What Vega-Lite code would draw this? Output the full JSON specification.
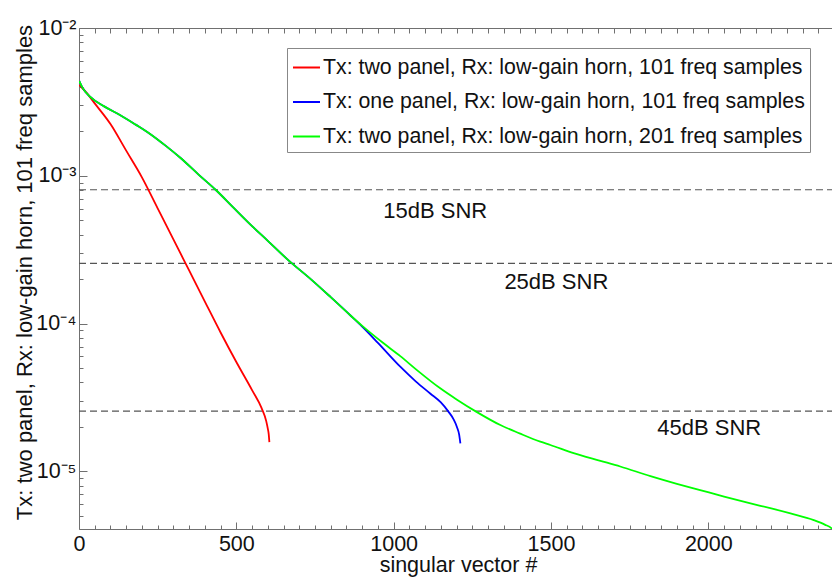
{
  "$schema": "https://vega.github.io/schema/vega-lite/v6.json",
  "width": 753,
  "height": 501,
  "autosize": {"type": "none"},
  "padding": {"left": 79, "top": 28, "right": 0, "bottom": 51},
  "background": "white",
  "config": {
    "view": {"stroke": null},
    "font": "Liberation Sans",
    "axis": {
      "labelFont": "Liberation Sans",
      "titleFont": "Liberation Sans",
      "labelColor": "#111111",
      "titleColor": "#111111",
      "titleFontWeight": "normal",
      "domainColor": "#707070",
      "tickColor": "#707070",
      "tickWidth": 1,
      "grid": false,
      "zindex": 1
    },
    "legend": {
      "orient": "none",
      "legendX": 208,
      "legendY": 20,
      "symbolType": "stroke",
      "symbolSize": 729,
      "symbolStrokeWidth": 2,
      "labelFont": "Liberation Sans",
      "labelFontSize": 21.3,
      "labelColor": "#111111",
      "labelLimit": 0,
      "labelOffset": 2,
      "rowPadding": 9.5,
      "padding": 5,
      "strokeColor": "#888888",
      "fillColor": "white"
    }
  },
  "datasets": {
    "curves": [
      {"series": "Tx: two panel, Rx: low-gain horn, 101 freq samples", "x": 1, "y": 0.00412},
      {"series": "Tx: two panel, Rx: low-gain horn, 101 freq samples", "x": 25, "y": 0.00363},
      {"series": "Tx: two panel, Rx: low-gain horn, 101 freq samples", "x": 50, "y": 0.00309},
      {"series": "Tx: two panel, Rx: low-gain horn, 101 freq samples", "x": 100, "y": 0.00224},
      {"series": "Tx: two panel, Rx: low-gain horn, 101 freq samples", "x": 150, "y": 0.00148},
      {"series": "Tx: two panel, Rx: low-gain horn, 101 freq samples", "x": 200, "y": 0.000977},
      {"series": "Tx: two panel, Rx: low-gain horn, 101 freq samples", "x": 250, "y": 0.000603},
      {"series": "Tx: two panel, Rx: low-gain horn, 101 freq samples", "x": 300, "y": 0.000372},
      {"series": "Tx: two panel, Rx: low-gain horn, 101 freq samples", "x": 350, "y": 0.000229},
      {"series": "Tx: two panel, Rx: low-gain horn, 101 freq samples", "x": 400, "y": 0.000141},
      {"series": "Tx: two panel, Rx: low-gain horn, 101 freq samples", "x": 450, "y": 0.0000871},
      {"series": "Tx: two panel, Rx: low-gain horn, 101 freq samples", "x": 500, "y": 0.000055},
      {"series": "Tx: two panel, Rx: low-gain horn, 101 freq samples", "x": 550, "y": 0.0000355},
      {"series": "Tx: two panel, Rx: low-gain horn, 101 freq samples", "x": 580, "y": 0.0000269},
      {"series": "Tx: two panel, Rx: low-gain horn, 101 freq samples", "x": 595, "y": 0.0000219},
      {"series": "Tx: two panel, Rx: low-gain horn, 101 freq samples", "x": 600, "y": 0.0000195},
      {"series": "Tx: two panel, Rx: low-gain horn, 101 freq samples", "x": 603, "y": 0.0000178},
      {"series": "Tx: two panel, Rx: low-gain horn, 101 freq samples", "x": 605, "y": 0.0000158},

      {"series": "Tx: one panel, Rx: low-gain horn, 101 freq samples", "x": 1, "y": 0.00437},
      {"series": "Tx: one panel, Rx: low-gain horn, 101 freq samples", "x": 10, "y": 0.00398},
      {"series": "Tx: one panel, Rx: low-gain horn, 101 freq samples", "x": 35, "y": 0.00343},
      {"series": "Tx: one panel, Rx: low-gain horn, 101 freq samples", "x": 80, "y": 0.00295},
      {"series": "Tx: one panel, Rx: low-gain horn, 101 freq samples", "x": 130, "y": 0.00258},
      {"series": "Tx: one panel, Rx: low-gain horn, 101 freq samples", "x": 180, "y": 0.00222},
      {"series": "Tx: one panel, Rx: low-gain horn, 101 freq samples", "x": 226, "y": 0.00192},
      {"series": "Tx: one panel, Rx: low-gain horn, 101 freq samples", "x": 275, "y": 0.0016},
      {"series": "Tx: one panel, Rx: low-gain horn, 101 freq samples", "x": 321, "y": 0.00133},
      {"series": "Tx: one panel, Rx: low-gain horn, 101 freq samples", "x": 380, "y": 0.00102},
      {"series": "Tx: one panel, Rx: low-gain horn, 101 freq samples", "x": 435, "y": 0.000802},
      {"series": "Tx: one panel, Rx: low-gain horn, 101 freq samples", "x": 490, "y": 0.000612},
      {"series": "Tx: one panel, Rx: low-gain horn, 101 freq samples", "x": 540, "y": 0.000479},
      {"series": "Tx: one panel, Rx: low-gain horn, 101 freq samples", "x": 600, "y": 0.000363},
      {"series": "Tx: one panel, Rx: low-gain horn, 101 freq samples", "x": 665, "y": 0.000269},
      {"series": "Tx: one panel, Rx: low-gain horn, 101 freq samples", "x": 740, "y": 0.000197},
      {"series": "Tx: one panel, Rx: low-gain horn, 101 freq samples", "x": 800, "y": 0.000151},
      {"series": "Tx: one panel, Rx: low-gain horn, 101 freq samples", "x": 862, "y": 0.000114},
      {"series": "Tx: one panel, Rx: low-gain horn, 101 freq samples", "x": 900, "y": 0.0000955},
      {"series": "Tx: one panel, Rx: low-gain horn, 101 freq samples", "x": 950, "y": 0.0000741},
      {"series": "Tx: one panel, Rx: low-gain horn, 101 freq samples", "x": 1021, "y": 0.0000511},
      {"series": "Tx: one panel, Rx: low-gain horn, 101 freq samples", "x": 1070, "y": 0.0000407},
      {"series": "Tx: one panel, Rx: low-gain horn, 101 freq samples", "x": 1116, "y": 0.0000337},
      {"series": "Tx: one panel, Rx: low-gain horn, 101 freq samples", "x": 1150, "y": 0.0000293},
      {"series": "Tx: one panel, Rx: low-gain horn, 101 freq samples", "x": 1174, "y": 0.0000254},
      {"series": "Tx: one panel, Rx: low-gain horn, 101 freq samples", "x": 1190, "y": 0.0000226},
      {"series": "Tx: one panel, Rx: low-gain horn, 101 freq samples", "x": 1201, "y": 0.00002},
      {"series": "Tx: one panel, Rx: low-gain horn, 101 freq samples", "x": 1208, "y": 0.0000178},
      {"series": "Tx: one panel, Rx: low-gain horn, 101 freq samples", "x": 1212, "y": 0.0000155},

      {"series": "Tx: two panel, Rx: low-gain horn, 201 freq samples", "x": 1, "y": 0.00437},
      {"series": "Tx: two panel, Rx: low-gain horn, 201 freq samples", "x": 10, "y": 0.00398},
      {"series": "Tx: two panel, Rx: low-gain horn, 201 freq samples", "x": 35, "y": 0.00343},
      {"series": "Tx: two panel, Rx: low-gain horn, 201 freq samples", "x": 80, "y": 0.00295},
      {"series": "Tx: two panel, Rx: low-gain horn, 201 freq samples", "x": 130, "y": 0.00258},
      {"series": "Tx: two panel, Rx: low-gain horn, 201 freq samples", "x": 180, "y": 0.00222},
      {"series": "Tx: two panel, Rx: low-gain horn, 201 freq samples", "x": 226, "y": 0.00192},
      {"series": "Tx: two panel, Rx: low-gain horn, 201 freq samples", "x": 275, "y": 0.0016},
      {"series": "Tx: two panel, Rx: low-gain horn, 201 freq samples", "x": 321, "y": 0.00133},
      {"series": "Tx: two panel, Rx: low-gain horn, 201 freq samples", "x": 380, "y": 0.00102},
      {"series": "Tx: two panel, Rx: low-gain horn, 201 freq samples", "x": 435, "y": 0.000802},
      {"series": "Tx: two panel, Rx: low-gain horn, 201 freq samples", "x": 490, "y": 0.000612},
      {"series": "Tx: two panel, Rx: low-gain horn, 201 freq samples", "x": 540, "y": 0.000479},
      {"series": "Tx: two panel, Rx: low-gain horn, 201 freq samples", "x": 600, "y": 0.000363},
      {"series": "Tx: two panel, Rx: low-gain horn, 201 freq samples", "x": 665, "y": 0.000269},
      {"series": "Tx: two panel, Rx: low-gain horn, 201 freq samples", "x": 740, "y": 0.000197},
      {"series": "Tx: two panel, Rx: low-gain horn, 201 freq samples", "x": 800, "y": 0.000151},
      {"series": "Tx: two panel, Rx: low-gain horn, 201 freq samples", "x": 862, "y": 0.000114},
      {"series": "Tx: two panel, Rx: low-gain horn, 201 freq samples", "x": 900, "y": 0.0000966},
      {"series": "Tx: two panel, Rx: low-gain horn, 201 freq samples", "x": 968, "y": 0.0000736},
      {"series": "Tx: two panel, Rx: low-gain horn, 201 freq samples", "x": 1021, "y": 0.0000603},
      {"series": "Tx: two panel, Rx: low-gain horn, 201 freq samples", "x": 1074, "y": 0.0000485},
      {"series": "Tx: two panel, Rx: low-gain horn, 201 freq samples", "x": 1148, "y": 0.0000365},
      {"series": "Tx: two panel, Rx: low-gain horn, 201 freq samples", "x": 1200, "y": 0.0000307},
      {"series": "Tx: two panel, Rx: low-gain horn, 201 freq samples", "x": 1262, "y": 0.0000254},
      {"series": "Tx: two panel, Rx: low-gain horn, 201 freq samples", "x": 1339, "y": 0.0000206},
      {"series": "Tx: two panel, Rx: low-gain horn, 201 freq samples", "x": 1400, "y": 0.0000181},
      {"series": "Tx: two panel, Rx: low-gain horn, 201 freq samples", "x": 1466, "y": 0.0000159},
      {"series": "Tx: two panel, Rx: low-gain horn, 201 freq samples", "x": 1498, "y": 0.0000151},
      {"series": "Tx: two panel, Rx: low-gain horn, 201 freq samples", "x": 1572, "y": 0.0000133},
      {"series": "Tx: two panel, Rx: low-gain horn, 201 freq samples", "x": 1657, "y": 0.0000118},
      {"series": "Tx: two panel, Rx: low-gain horn, 201 freq samples", "x": 1720, "y": 0.0000108},
      {"series": "Tx: two panel, Rx: low-gain horn, 201 freq samples", "x": 1816, "y": 0.0000093},
      {"series": "Tx: two panel, Rx: low-gain horn, 201 freq samples", "x": 1900, "y": 0.00000825},
      {"series": "Tx: two panel, Rx: low-gain horn, 201 freq samples", "x": 1974, "y": 0.00000748},
      {"series": "Tx: two panel, Rx: low-gain horn, 201 freq samples", "x": 2050, "y": 0.00000676},
      {"series": "Tx: two panel, Rx: low-gain horn, 201 freq samples", "x": 2134, "y": 0.00000608},
      {"series": "Tx: two panel, Rx: low-gain horn, 201 freq samples", "x": 2200, "y": 0.00000562},
      {"series": "Tx: two panel, Rx: low-gain horn, 201 freq samples", "x": 2261, "y": 0.0000052},
      {"series": "Tx: two panel, Rx: low-gain horn, 201 freq samples", "x": 2335, "y": 0.00000469},
      {"series": "Tx: two panel, Rx: low-gain horn, 201 freq samples", "x": 2370, "y": 0.00000437},
      {"series": "Tx: two panel, Rx: low-gain horn, 201 freq samples", "x": 2393, "y": 0.0000041},
      {"series": "Tx: two panel, Rx: low-gain horn, 201 freq samples", "x": 2405, "y": 0.0000038}
    ],
    "levels": [
      {"snr": "15dB", "level": 0.000805},
      {"snr": "25dB", "level": 0.000256},
      {"snr": "45dB", "level": 0.0000256}
    ],
    "notes": [
      {"text": "15dB SNR", "x": 1132, "y": 0.000578},
      {"text": "25dB SNR", "x": 1517, "y": 0.000191},
      {"text": "45dB SNR", "x": 2003, "y": 0.0000197}
    ]
  },
  "resolve": {"axis": {"x": "independent", "y": "independent"}},
  "layer": [
    {
      "data": {"name": "levels"},
      "mark": {"type": "rule", "color": "#555555", "strokeWidth": 1.2, "strokeDash": [7, 4]},
      "encoding": {
        "x": {"datum": 0, "type": "quantitative",
              "scale": {"domain": [0, 2393], "nice": false, "zero": false},
              "axis": {
                "orient": "top",
                "offset": -501,
                "title": null,
                "labels": false,
                "domain": false,
                "ticks": true,
                "values": [0, 500, 1000, 1500, 2000],
                "tickSize": 7
              }},
        "x2": {"datum": 2393},
        "y": {"field": "level", "type": "quantitative",
              "scale": {"type": "log", "domain": [0.00000408, 0.01], "nice": false},
              "axis": {
                "orient": "right",
                "offset": -753,
                "title": null,
                "labels": false,
                "domain": false,
                "ticks": true,
                "values": [1e-5, 1e-4, 1e-3, 1e-2],
                "tickSize": 8
              }}
      }
    },
    {
      "data": {"name": "curves"},
      "transform": [{"filter": "datum.series == 'Tx: two panel, Rx: low-gain horn, 101 freq samples'"}],
      "mark": {"type": "line", "strokeWidth": 1.8, "clip": true, "interpolate": "monotone"},
      "encoding": {
        "x": {"field": "x", "type": "quantitative",
              "scale": {"domain": [0, 2393], "nice": false, "zero": false},
              "axis": {
                "orient": "bottom",
                "title": "singular vector #",
                "titleFontSize": 21.5,
                "titleX": 379,
                "titleY": 42,
                "titleBaseline": "alphabetic",
                "values": [0, 500, 1000, 1500, 2000],
                "format": "d",
                "ticks": false,
                "labelFontSize": 21.5,
                "labelPadding": 4,
                "labelFlush": false,
                "labelOverlap": false
              }},
        "y": {"field": "y", "type": "quantitative",
              "scale": {"type": "log", "domain": [0.00000408, 0.01], "nice": false},
              "axis": {
                "orient": "left",
                "title": "Tx: two panel, Rx: low-gain horn, 101 freq samples",
                "titleFontSize": 22,
                "titleX": -43,
                "titleY": 244,
                "titleAngle": 270,
                "titleAlign": "center",
                "titleBaseline": "bottom",
                "values": [1e-5, 1e-4, 1e-3, 1e-2],
                "labelExpr": "datum.value == 0.01 ? '10⁻²' : datum.value == 0.001 ? '10⁻³' : datum.value == 0.0001 ? '10⁻⁴' : '10⁻⁵'",
                "ticks": false,
                "labelFontSize": 21.5,
                "labelPadding": 3,
                "labelFlush": false,
                "labelOverlap": false
              }},
        "color": {"field": "series", "type": "nominal",
                  "scale": {"domain": ["Tx: two panel, Rx: low-gain horn, 101 freq samples", "Tx: one panel, Rx: low-gain horn, 101 freq samples", "Tx: two panel, Rx: low-gain horn, 201 freq samples"],
                            "range": ["#ff0000", "#0000ff", "#00ff00"]},
                  "legend": {"title": null}},
        "order": {"field": "x", "type": "quantitative"}
      }
    },
    {
      "data": {"name": "curves"},
      "transform": [{"filter": "datum.series != 'Tx: two panel, Rx: low-gain horn, 101 freq samples'"}],
      "mark": {"type": "line", "strokeWidth": 1.8, "clip": true, "interpolate": "monotone"},
      "encoding": {
        "x": {"field": "x", "type": "quantitative",
              "scale": {"domain": [0, 2393], "nice": false, "zero": false},
              "axis": {
                "orient": "bottom",
                "offset": -501,
                "title": null,
                "labels": false,
                "domain": true,
                "ticks": true,
                "values": [0,50,100,150,200,250,300,350,400,450,500,550,600,650,700,750,800,850,900,950,1000,1050,1100,1150,1200,1250,1300,1350,1400,1450,1500,1550,1600,1650,1700,1750,1800,1850,1900,1950,2000,2050,2100,2150,2200,2250,2300,2350],
                "tickSize": 5
              }},
        "y": {"field": "y", "type": "quantitative",
              "scale": {"type": "log", "domain": [0.00000408, 0.01], "nice": false},
              "axis": {
                "orient": "right",
                "offset": -753,
                "title": null,
                "labels": false,
                "domain": false,
                "ticks": true,
                "values": [5e-6,6e-6,7e-6,8e-6,9e-6,2e-5,3e-5,4e-5,5e-5,6e-5,7e-5,8e-5,9e-5,2e-4,3e-4,4e-4,5e-4,6e-4,7e-4,8e-4,9e-4,2e-3,3e-3,4e-3,5e-3,6e-3,7e-3,8e-3,9e-3],
                "tickSize": 4
              }},
        "color": {"field": "series", "type": "nominal",
                  "scale": {"domain": ["Tx: two panel, Rx: low-gain horn, 101 freq samples", "Tx: one panel, Rx: low-gain horn, 101 freq samples", "Tx: two panel, Rx: low-gain horn, 201 freq samples"],
                            "range": ["#ff0000", "#0000ff", "#00ff00"]},
                  "legend": {"title": null}},
        "order": {"field": "x", "type": "quantitative"}
      }
    },
    {
      "data": {"name": "notes"},
      "mark": {"type": "text", "fontSize": 22, "font": "Liberation Sans", "color": "#111111", "align": "center", "baseline": "middle"},
      "encoding": {
        "text": {"field": "text"},
        "x": {"field": "x", "type": "quantitative",
              "scale": {"domain": [0, 2393], "nice": false, "zero": false},
              "axis": {
                "orient": "top",
                "offset": -501,
                "title": null,
                "labels": false,
                "domain": false,
                "ticks": true,
                "values": [50,100,150,200,250,300,350,400,450,550,600,650,700,750,800,850,900,950,1050,1100,1150,1200,1250,1300,1350,1400,1450,1550,1600,1650,1700,1750,1800,1850,1900,1950,2050,2100,2150,2200,2250,2300,2350],
                "tickSize": 4
              }},
        "y": {"field": "y", "type": "quantitative",
              "scale": {"type": "log", "domain": [0.00000408, 0.01], "nice": false},
              "axis": null}
      }
    }
  ]
}
